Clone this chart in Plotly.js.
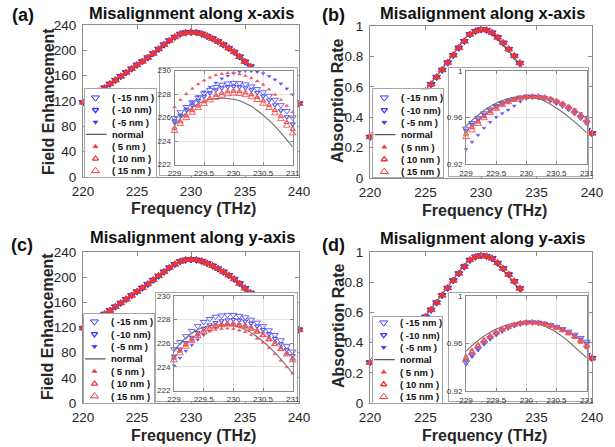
<!DOCTYPE html>
<html>
<head>
<meta charset="utf-8">
<script src="https://cdn.plot.ly/plotly-3.0.1.min.js"></script>
<style>
html, body { margin: 0; padding: 0; background: #ffffff; }
#chart { width: 615px; height: 447px; }
</style>
</head>
<body>
<div id="chart"></div>
<script>
// ---------- data ----------
// Frequency grid of the full spectra (THz)
const freqMain = [220, 220.5, 221, 221.5, 222, 222.5, 223, 223.5, 224, 224.5, 225, 225.5, 226, 226.5, 227, 227.5, 228, 228.5, 229, 229.5, 230, 230.5, 231, 231.5, 232, 232.5, 233, 233.5, 234, 234.5, 235, 235.5, 236, 236.5, 237, 237.5, 238, 238.5, 239, 239.5, 240];
// Frequency grid of the zoomed spectra around resonance (THz)
const freqInset = [229.0, 229.1, 229.2, 229.3, 229.4, 229.5, 229.6, 229.7, 229.8, 229.9, 230.0, 230.1, 230.2, 230.3, 230.4, 230.5, 230.6, 230.7, 230.8, 230.9, 231.0];

// Series legend text (order: -15, -10, -5, normal, 5, 10, 15 nm)
const seriesLabels = ['( -15 nm )', '( -10 nm)', '( -5 nm )', 'normal', '( 5 nm )', '( 10 nm )', '( 15 nm )'];

// Field enhancement, misalignment along x
const feMainXShift  = [118, 124, 130, 135.5, 141, 147, 153, 159, 165, 171, 177, 182.5, 188.5, 195, 202, 209, 215.5, 221, 225.8, 228, 228.7, 228.2, 226, 222.5, 218.5, 214, 209, 203.5, 197.5, 190, 182, 174.5, 167, 160, 153, 146, 139, 132.5, 126, 120.5, 116];
const feMainXNormal = [118, 124, 130, 135.5, 141, 147, 153, 159, 165, 171, 177, 182.5, 188.5, 195, 201.5, 208.5, 215, 220.5, 225.3, 227.4, 227.55, 226.2, 223.5, 220, 216, 212, 207.5, 202.5, 196.5, 189.5, 181.5, 174, 166.5, 159.5, 152.5, 145.5, 138.5, 132, 125.5, 120, 115.5];
const feInsetX_m15 = [225.95, 226.45, 226.9, 227.3, 227.7, 228.05, 228.35, 228.6, 228.8, 228.9, 228.95, 228.92, 228.82, 228.65, 228.42, 228.15, 227.85, 227.5, 227.05, 226.55, 226.0];
const feInsetX_m10 = [225.7, 226.2, 226.65, 227.05, 227.45, 227.8, 228.1, 228.35, 228.52, 228.62, 228.66, 228.62, 228.52, 228.35, 228.12, 227.82, 227.48, 227.08, 226.6, 226.05, 225.45];
const feInsetX_m5  = [225.5, 226.15, 226.75, 227.3, 227.8, 228.2, 228.6, 228.95, 229.3, 229.55, 229.78, 229.9, 229.96, 229.94, 229.88, 229.75, 229.52, 229.22, 228.88, 228.45, 227.95];
const feInsetX_normal = [225.3, 225.9, 226.4, 226.85, 227.15, 227.4, 227.55, 227.62, 227.65, 227.62, 227.55, 227.42, 227.2, 226.95, 226.6, 226.2, 225.75, 225.25, 224.7, 224.1, 223.5];
const feInsetX_p5  = [226.9, 227.5, 228.0, 228.45, 228.85, 229.15, 229.4, 229.6, 229.72, 229.78, 229.78, 229.7, 229.55, 229.35, 229.1, 228.8, 228.4, 227.95, 227.5, 227.0, 226.45];
const feInsetX_p10 = [225.1, 225.65, 226.15, 226.6, 227.0, 227.35, 227.65, 227.9, 228.08, 228.2, 228.25, 228.22, 228.12, 227.95, 227.72, 227.42, 227.05, 226.62, 226.12, 225.58, 225.0];
const feInsetX_p15 = [224.85, 225.45, 225.95, 226.4, 226.8, 227.15, 227.45, 227.68, 227.86, 227.98, 228.03, 228.0, 227.9, 227.72, 227.48, 227.17, 226.8, 226.36, 225.86, 225.3, 224.65];

// Absorption rate, misalignment along x
const absMainXShift  = [0.270, 0.288, 0.308, 0.331, 0.356, 0.384, 0.415, 0.449, 0.487, 0.528, 0.572, 0.617, 0.664, 0.711, 0.759, 0.808, 0.856, 0.900, 0.945, 0.966, 0.977, 0.973, 0.956, 0.925, 0.889, 0.848, 0.803, 0.756, 0.708, 0.660, 0.613, 0.568, 0.526, 0.487, 0.451, 0.418, 0.388, 0.361, 0.336, 0.314, 0.294];
const absMainXNormal = [0.270, 0.288, 0.308, 0.331, 0.356, 0.384, 0.415, 0.450, 0.489, 0.531, 0.576, 0.622, 0.670, 0.718, 0.766, 0.815, 0.866, 0.912, 0.953, 0.972, 0.978, 0.968, 0.947, 0.915, 0.878, 0.837, 0.793, 0.747, 0.700, 0.653, 0.607, 0.563, 0.522, 0.484, 0.449, 0.416, 0.386, 0.359, 0.334, 0.312, 0.292];
const absInsetX_m15 = [0.9505, 0.9553, 0.9597, 0.9636, 0.9670, 0.9699, 0.9723, 0.9743, 0.9759, 0.9771, 0.9778, 0.9779, 0.9775, 0.9765, 0.9749, 0.9728, 0.9703, 0.9673, 0.9638, 0.9598, 0.9555];
const absInsetX_m10 = [0.9490, 0.9540, 0.9586, 0.9627, 0.9663, 0.9694, 0.9719, 0.9740, 0.9757, 0.9770, 0.9777, 0.9779, 0.9776, 0.9767, 0.9752, 0.9732, 0.9708, 0.9679, 0.9645, 0.9606, 0.9562];
const absInsetX_m5  = [0.9328, 0.9390, 0.9450, 0.9510, 0.9560, 0.9603, 0.9635, 0.9665, 0.9700, 0.9735, 0.9760, 0.9775, 0.9782, 0.9778, 0.9768, 0.9748, 0.9725, 0.9698, 0.9668, 0.9635, 0.9605];
const absInsetX_normal = [0.9527, 0.9575, 0.9620, 0.9660, 0.9695, 0.9722, 0.9745, 0.9762, 0.9773, 0.9778, 0.9778, 0.9772, 0.9760, 0.9740, 0.9713, 0.9680, 0.9645, 0.9605, 0.9562, 0.9517, 0.9470];
const absInsetX_p5  = [0.9478, 0.9530, 0.9578, 0.9620, 0.9657, 0.9689, 0.9716, 0.9738, 0.9755, 0.9768, 0.9776, 0.9778, 0.9774, 0.9764, 0.9748, 0.9727, 0.9702, 0.9672, 0.9637, 0.9597, 0.9550];
const absInsetX_p10 = [0.9458, 0.9513, 0.9564, 0.9609, 0.9649, 0.9683, 0.9712, 0.9735, 0.9753, 0.9767, 0.9776, 0.9779, 0.9777, 0.9769, 0.9755, 0.9736, 0.9713, 0.9685, 0.9652, 0.9614, 0.9570];
const absInsetX_p15 = [0.9432, 0.9490, 0.9545, 0.9594, 0.9637, 0.9674, 0.9705, 0.9730, 0.9750, 0.9765, 0.9775, 0.9779, 0.9778, 0.9771, 0.9758, 0.9740, 0.9718, 0.9691, 0.9659, 0.9622, 0.9580];

// Field enhancement, misalignment along y
const feMainYShift  = [119, 124.5, 130, 136, 141.5, 147, 153, 159, 165, 171, 177, 183, 189, 195.5, 202, 208.5, 215, 220.5, 225, 227.5, 228, 227.5, 225.5, 222, 218, 213.5, 208.5, 203, 197, 190, 182.5, 175, 167.5, 160, 153, 146, 139, 132.5, 126.5, 121, 116.5];
const feMainYNormal = [119, 124.5, 130, 136, 141.5, 147, 153, 159, 165, 171, 177, 183, 189, 195.5, 201.5, 208, 214.5, 220.5, 225.4, 227.35, 227.48, 226.15, 223.4, 220, 216, 211.5, 207, 202, 196, 189.5, 182, 174.5, 167, 159.5, 152.5, 145.5, 138.5, 132, 126, 120.5, 116];
const feInsetY_m15 = [225.5, 226.1, 226.6, 227.05, 227.45, 227.8, 228.05, 228.25, 228.35, 228.4, 228.4, 228.32, 228.2, 228.0, 227.75, 227.45, 227.1, 226.7, 226.25, 225.75, 225.3];
const feInsetY_m10 = [224.9, 225.5, 226.05, 226.5, 226.9, 227.25, 227.55, 227.75, 227.9, 227.98, 228.0, 227.95, 227.85, 227.7, 227.45, 227.15, 226.8, 226.4, 225.95, 225.45, 224.95];
const feInsetY_m5  = [224.1, 224.75, 225.35, 225.85, 226.3, 226.7, 227.05, 227.3, 227.5, 227.6, 227.62, 227.6, 227.5, 227.35, 227.1, 226.85, 226.5, 226.1, 225.65, 225.15, 224.6];
const feInsetY_normal = [225.4, 225.95, 226.45, 226.85, 227.15, 227.35, 227.48, 227.55, 227.57, 227.55, 227.48, 227.35, 227.15, 226.9, 226.55, 226.15, 225.7, 225.2, 224.65, 224.05, 223.4];
const feInsetY_p5  = [224.75, 225.3, 225.8, 226.2, 226.55, 226.8, 227.0, 227.15, 227.22, 227.25, 227.22, 227.1, 226.95, 226.7, 226.4, 226.05, 225.6, 225.1, 224.55, 224.0, 223.45];
const feInsetY_p10 = [224.75, 225.35, 225.9, 226.35, 226.75, 227.05, 227.3, 227.48, 227.58, 227.62, 227.6, 227.52, 227.4, 227.2, 226.95, 226.65, 226.3, 225.9, 225.5, 225.1, 224.7];
const feInsetY_p15 = [224.55, 225.15, 225.7, 226.2, 226.6, 226.95, 227.2, 227.4, 227.52, 227.58, 227.58, 227.52, 227.42, 227.25, 227.0, 226.7, 226.35, 225.95, 225.5, 225.05, 224.55];

// Absorption rate, misalignment along y
const absMainYShift  = [0.268, 0.287, 0.307, 0.330, 0.355, 0.383, 0.414, 0.448, 0.486, 0.527, 0.571, 0.617, 0.665, 0.713, 0.762, 0.811, 0.858, 0.903, 0.947, 0.968, 0.977, 0.972, 0.958, 0.927, 0.891, 0.851, 0.806, 0.759, 0.711, 0.663, 0.616, 0.571, 0.529, 0.490, 0.454, 0.421, 0.391, 0.363, 0.338, 0.316, 0.297];
const absMainYNormal = [0.268, 0.287, 0.307, 0.330, 0.355, 0.383, 0.414, 0.449, 0.488, 0.530, 0.575, 0.622, 0.670, 0.719, 0.768, 0.817, 0.866, 0.913, 0.954, 0.972, 0.978, 0.969, 0.948, 0.917, 0.880, 0.839, 0.795, 0.749, 0.702, 0.655, 0.609, 0.565, 0.524, 0.486, 0.451, 0.418, 0.388, 0.361, 0.336, 0.314, 0.295];
const absInsetY_m15 = [0.9440, 0.9500, 0.9555, 0.9603, 0.9645, 0.9680, 0.9710, 0.9735, 0.9755, 0.9768, 0.9776, 0.9778, 0.9775, 0.9767, 0.9755, 0.9740, 0.9722, 0.9700, 0.9675, 0.9647, 0.9615];
const absInsetY_m10 = [0.9455, 0.9512, 0.9565, 0.9612, 0.9652, 0.9686, 0.9715, 0.9739, 0.9758, 0.9770, 0.9777, 0.9778, 0.9774, 0.9765, 0.9752, 0.9736, 0.9717, 0.9694, 0.9668, 0.9636, 0.9600];
const absInsetY_m5  = [0.9425, 0.9488, 0.9545, 0.9595, 0.9638, 0.9675, 0.9706, 0.9732, 0.9752, 0.9766, 0.9775, 0.9778, 0.9774, 0.9765, 0.9751, 0.9734, 0.9714, 0.9690, 0.9662, 0.9628, 0.9590];
const absInsetY_normal = [0.9535, 0.9582, 0.9625, 0.9663, 0.9695, 0.9722, 0.9744, 0.9760, 0.9771, 0.9777, 0.9778, 0.9773, 0.9762, 0.9745, 0.9722, 0.9693, 0.9658, 0.9617, 0.9572, 0.9525, 0.9480];
const absInsetY_p5  = [0.9500, 0.9550, 0.9597, 0.9637, 0.9672, 0.9701, 0.9725, 0.9745, 0.9761, 0.9772, 0.9778, 0.9778, 0.9773, 0.9762, 0.9747, 0.9728, 0.9705, 0.9678, 0.9646, 0.9606, 0.9560];
const absInsetY_p10 = [0.9480, 0.9535, 0.9585, 0.9628, 0.9665, 0.9696, 0.9721, 0.9742, 0.9759, 0.9771, 0.9777, 0.9778, 0.9774, 0.9764, 0.9749, 0.9731, 0.9710, 0.9684, 0.9654, 0.9617, 0.9575];
const absInsetY_p15 = [0.9465, 0.9522, 0.9575, 0.9620, 0.9658, 0.9690, 0.9718, 0.9740, 0.9757, 0.9770, 0.9777, 0.9778, 0.9774, 0.9765, 0.9750, 0.9733, 0.9713, 0.9689, 0.9660, 0.9626, 0.9585];

// Tick labels
const mainFreqTicks = [220, 225, 230, 235, 240];
const feTicks = [0, 40, 80, 120, 160, 200, 240];
const absTicks = [0, 0.2, 0.4, 0.6, 0.8, 1];
const absTickText = ['0', '0.2', '0.4', '0.6', '0.8', '1'];
const insetFreqTicks = [229, 229.5, 230, 230.5, 231];
const insetFreqText = ['229', '229.5', '230', '230.5', '231'];
const insetFeTicks = [222, 224, 226, 228, 230];
const insetFeText = ['222', '224', '226', '228', '230'];
const insetAbsTicks = [0.92, 0.96, 1];
const insetAbsText = ['0.92', '0.96', '1'];

// ---------- styling ----------
const W = 615, H = 447;
const FONT = 'Liberation Sans, Arial, Helvetica, sans-serif';
const BLUE = 'rgb(55,55,235)';
const RED = 'rgb(235,55,55)';
const BLUE_SOFT = 'rgb(85,85,240)';
const RED_SOFT = 'rgb(240,85,85)';
const NORMAL_COLOR = '#595959';

// marker look for the full spectra and the legend
const seriesStyle = [
  { symbol: 'triangle-down-open', size: 7,   width: 1,   color: BLUE },
  { symbol: 'triangle-down-open', size: 5.5, width: 1.3, color: BLUE },
  { symbol: 'triangle-down',      size: 4.5, width: 0.5, color: BLUE },
  { line: true },
  { symbol: 'triangle-up',        size: 4.5, width: 0.5, color: RED },
  { symbol: 'triangle-up-open',   size: 5.5, width: 1.3, color: RED },
  { symbol: 'triangle-up-open',   size: 7,   width: 1,   color: RED }
];
// slightly smaller, softer markers for the zoomed view
const insetStyle = [
  { symbol: 'triangle-down-open', size: 6,   width: 0.9, color: BLUE_SOFT },
  { symbol: 'triangle-down-open', size: 4.5, width: 1.1, color: BLUE_SOFT },
  { symbol: 'triangle-down',      size: 3.5, width: 0.3, color: BLUE_SOFT },
  { line: true },
  { symbol: 'triangle-up',        size: 3.5, width: 0.3, color: RED_SOFT },
  { symbol: 'triangle-up-open',   size: 4.5, width: 1.1, color: RED_SOFT },
  { symbol: 'triangle-up-open',   size: 6,   width: 0.9, color: RED_SOFT }
];

const panels = [
  { letter: '(a)', title: 'Misalignment along x-axis', yTitle: 'Field Enhancement',
    mainShift: feMainXShift, mainNormal: feMainXNormal,
    inset: [feInsetX_m15, feInsetX_m10, feInsetX_m5, feInsetX_normal, feInsetX_p5, feInsetX_p10, feInsetX_p15],
    mainRange: [0, 240], mainTicks: feTicks, mainText: null,
    insetRange: [222, 230], insetTicks: insetFeTicks, insetText: insetFeText },
  { letter: '(b)', title: 'Misalignment along x-axis', yTitle: 'Absorption Rate',
    mainShift: absMainXShift, mainNormal: absMainXNormal,
    inset: [absInsetX_m15, absInsetX_m10, absInsetX_m5, absInsetX_normal, absInsetX_p5, absInsetX_p10, absInsetX_p15],
    mainRange: [0, 1], mainTicks: absTicks, mainText: absTickText,
    insetRange: [0.92, 1], insetTicks: insetAbsTicks, insetText: insetAbsText },
  { letter: '(c)', title: 'Misalignment along y-axis', yTitle: 'Field Enhancement',
    mainShift: feMainYShift, mainNormal: feMainYNormal,
    inset: [feInsetY_m15, feInsetY_m10, feInsetY_m5, feInsetY_normal, feInsetY_p5, feInsetY_p10, feInsetY_p15],
    mainRange: [0, 240], mainTicks: feTicks, mainText: null,
    insetRange: [222, 230], insetTicks: insetFeTicks, insetText: insetFeText },
  { letter: '(d)', title: 'Misalignment along y-axis', yTitle: 'Absorption Rate',
    mainShift: absMainYShift, mainNormal: absMainYNormal,
    inset: [absInsetY_m15, absInsetY_m10, absInsetY_m5, absInsetY_normal, absInsetY_p5, absInsetY_p10, absInsetY_p15],
    mainRange: [0, 1], mainTicks: absTicks, mainText: absTickText,
    insetRange: [0.92, 1], insetTicks: insetAbsTicks, insetText: insetAbsText }
];

// Pixel boxes of each panel: [left, right, top, bottom]
const panelBoxes = [
  { main: [83, 299, 25, 177], frame: [160, 297, 68, 175], inset: [174.5, 292.7, 70.5, 164.5],
    legend: [84.5, 155.5, 88.5, 176.5], row0: 97.7, rowGap: 12.2,
    title: [191, 12.7], letter: [23, 15], xTitle: [193, 209], yTitle: [48, 102] },
  { main: [370, 592, 26, 178], frame: [449, 588, 68, 176], inset: [466, 586.7, 70.7, 164.3],
    legend: [373.3, 443.3, 89.3, 176.7], row0: 97.7, rowGap: 12.33,
    title: [482, 13], letter: [333, 15], xTitle: [484, 210], yTitle: [338, 101] },
  { main: [83, 299, 252, 403], frame: [156, 297, 293, 401], inset: [174, 292.7, 296, 390.5],
    legend: [83.5, 154, 314, 402.5], row0: 321.7, rowGap: 12.4,
    title: [192, 237], letter: [22, 245], xTitle: [193, 435], yTitle: [47, 326] },
  { main: [370, 592, 252, 403], frame: [449, 588, 293, 401], inset: [466, 586.7, 296, 391],
    legend: [372.7, 442.3, 316.7, 402.5], row0: 322.7, rowGap: 12.33,
    title: [482, 238], letter: [333, 245], xTitle: [484, 435], yTitle: [338, 326] }
];

const dx = (a, b) => [a / W, b / W];
const dy = (top, bottom) => [1 - bottom / H, 1 - top / H];
const sfx = n => (n === 1 ? '' : String(n));

const mainAxisBase = {
  showline: true, linecolor: '#8c8c8c', linewidth: 1, mirror: 'ticks',
  ticks: 'inside', ticklen: 4, tickwidth: 1, tickcolor: '#8c8c8c',
  showgrid: false, zeroline: false, fixedrange: true,
  tickfont: { family: FONT, size: 13.5, color: '#262626' }
};
const insetAxisBase = {
  showline: true, linecolor: '#8a8a8a', linewidth: 1, mirror: 'ticks',
  ticks: 'inside', ticklen: 3, tickwidth: 1, tickcolor: '#8a8a8a',
  showgrid: true, gridcolor: '#e3e3e3', gridwidth: 1, zeroline: false, fixedrange: true,
  tickfont: { family: FONT, size: 8, color: '#333333' }
};
const boxAxisBase = {
  showline: true, linecolor: '#a6a6a6', linewidth: 1, mirror: true,
  ticks: '', showticklabels: false, showgrid: false, zeroline: false, fixedrange: true
};

function markerOf(st) {
  return { symbol: st.symbol, size: st.size, color: st.color, line: { width: st.width, color: st.color } };
}

const traces = [];
const layout = {
  width: W, height: H,
  margin: { l: 0, r: 0, t: 0, b: 0 },
  paper_bgcolor: '#ffffff', plot_bgcolor: '#ffffff',
  showlegend: false,
  font: { family: FONT, color: '#262626' },
  annotations: []
};

panels.forEach((p, i) => {
  const b = panelBoxes[i];
  const nMain = 4 * i + 1, nFrame = 4 * i + 2, nInset = 4 * i + 3, nLeg = 4 * i + 4;

  // main axes
  layout['xaxis' + sfx(nMain)] = Object.assign({}, mainAxisBase, {
    domain: dx(b.main[0], b.main[1]), anchor: 'y' + sfx(nMain),
    range: [220, 240], tickmode: 'array', tickvals: mainFreqTicks, ticklabelstandoff: 2
  });
  layout['yaxis' + sfx(nMain)] = Object.assign({}, mainAxisBase, {
    domain: dy(b.main[2], b.main[3]), anchor: 'x' + sfx(nMain),
    range: p.mainRange, tickmode: 'array', tickvals: p.mainTicks,
    ticktext: p.mainText || p.mainTicks.map(String), ticklabelstandoff: 3
  });

  // white frame behind the zoomed view
  layout['xaxis' + sfx(nFrame)] = Object.assign({}, boxAxisBase, {
    domain: dx(b.frame[0], b.frame[1]), anchor: 'y' + sfx(nFrame), range: [0, 1]
  });
  layout['yaxis' + sfx(nFrame)] = Object.assign({}, boxAxisBase, {
    domain: dy(b.frame[2], b.frame[3]), anchor: 'x' + sfx(nFrame), range: [0, 1]
  });

  // zoomed view axes
  layout['xaxis' + sfx(nInset)] = Object.assign({}, insetAxisBase, {
    domain: dx(b.inset[0], b.inset[1]), anchor: 'y' + sfx(nInset),
    range: [229, 231], tickmode: 'array', tickvals: insetFreqTicks, ticktext: insetFreqText, ticklabelstandoff: 1
  });
  layout['yaxis' + sfx(nInset)] = Object.assign({}, insetAxisBase, {
    domain: dy(b.inset[2], b.inset[3]), anchor: 'x' + sfx(nInset),
    range: p.insetRange, tickmode: 'array', tickvals: p.insetTicks, ticktext: p.insetText, ticklabelstandoff: 1
  });

  // legend box axes (units: pixels from the box's top-left corner)
  const lw = b.legend[1] - b.legend[0], lh = b.legend[3] - b.legend[2];
  layout['xaxis' + sfx(nLeg)] = Object.assign({}, boxAxisBase, {
    domain: dx(b.legend[0], b.legend[1]), anchor: 'y' + sfx(nLeg), range: [0, lw]
  });
  layout['yaxis' + sfx(nLeg)] = Object.assign({}, boxAxisBase, {
    domain: dy(b.legend[2], b.legend[3]), anchor: 'x' + sfx(nLeg), range: [lh, 0]
  });

  const xm = 'x' + sfx(nMain), ym = 'y' + sfx(nMain);
  const xf = 'x' + sfx(nFrame), yf = 'y' + sfx(nFrame);
  const xi = 'x' + sfx(nInset), yi = 'y' + sfx(nInset);
  const xl = 'x' + sfx(nLeg), yl = 'y' + sfx(nLeg);

  // full spectra
  seriesStyle.forEach((st, s) => {
    if (st.line) {
      traces.push({ x: freqMain, y: p.mainNormal, xaxis: xm, yaxis: ym, mode: 'lines',
        line: { color: NORMAL_COLOR, width: 1.2 }, hoverinfo: 'skip', cliponaxis: false });
    } else {
      traces.push({ x: freqMain, y: p.mainShift, xaxis: xm, yaxis: ym, mode: 'markers',
        marker: markerOf(st), hoverinfo: 'skip', cliponaxis: false });
    }
  });

  // frame (no data, just the white box)
  traces.push({ x: [], y: [], xaxis: xf, yaxis: yf, mode: 'markers', hoverinfo: 'skip' });

  // zoomed spectra
  insetStyle.forEach((st, s) => {
    if (st.line) {
      traces.push({ x: freqInset, y: p.inset[s], xaxis: xi, yaxis: yi, mode: 'lines',
        line: { color: '#6e6e6e', width: 1.1, shape: 'spline' }, hoverinfo: 'skip' });
    } else {
      traces.push({ x: freqInset, y: p.inset[s], xaxis: xi, yaxis: yi, mode: 'markers',
        marker: markerOf(st), hoverinfo: 'skip', cliponaxis: false });
    }
  });

  // legend keys and labels
  const keyX = 11, lineX0 = 1.5, lineX1 = 22, textX = 25.5;
  seriesLabels.forEach((label, s) => {
    const st = seriesStyle[s];
    const row = b.row0 - b.legend[2] + s * b.rowGap;
    if (st.line) {
      traces.push({ x: [lineX0, lineX1], y: [row, row], xaxis: xl, yaxis: yl, mode: 'lines',
        line: { color: NORMAL_COLOR, width: 1.3 }, hoverinfo: 'skip' });
    } else {
      traces.push({ x: [keyX], y: [row], xaxis: xl, yaxis: yl, mode: 'markers',
        marker: markerOf(st), hoverinfo: 'skip' });
    }
    layout.annotations.push({ xref: xl, yref: yl, x: textX, y: row, text: label, showarrow: false,
      xanchor: 'left', yanchor: 'middle', font: { family: FONT, size: 9.5, weight: 700, color: '#111111' } });
  });

  // titles and axis labels
  layout.annotations.push({ xref: 'paper', yref: 'paper', x: b.title[0] / W, y: 1 - b.title[1] / H,
    text: p.title, showarrow: false, xanchor: 'center', yanchor: 'middle',
    font: { family: FONT, size: 16.5, weight: 700, color: '#111111' } });
  layout.annotations.push({ xref: 'paper', yref: 'paper', x: b.letter[0] / W, y: 1 - b.letter[1] / H,
    text: p.letter, showarrow: false, xanchor: 'center', yanchor: 'middle',
    font: { family: FONT, size: 18, weight: 700, color: '#111111' } });
  layout.annotations.push({ xref: 'paper', yref: 'paper', x: b.xTitle[0] / W, y: 1 - b.xTitle[1] / H,
    text: 'Frequency (THz)', showarrow: false, xanchor: 'center', yanchor: 'middle',
    font: { family: FONT, size: 16, weight: 700, color: '#262626' } });
  layout.annotations.push({ xref: 'paper', yref: 'paper', x: b.yTitle[0] / W, y: 1 - b.yTitle[1] / H,
    text: p.yTitle, showarrow: false, xanchor: 'center', yanchor: 'middle', textangle: -90,
    font: { family: FONT, size: 16, weight: 700, color: '#262626' } });
});

Plotly.newPlot('chart', traces, layout, { staticPlot: true, displayModeBar: false });
</script>
</body>
</html>
